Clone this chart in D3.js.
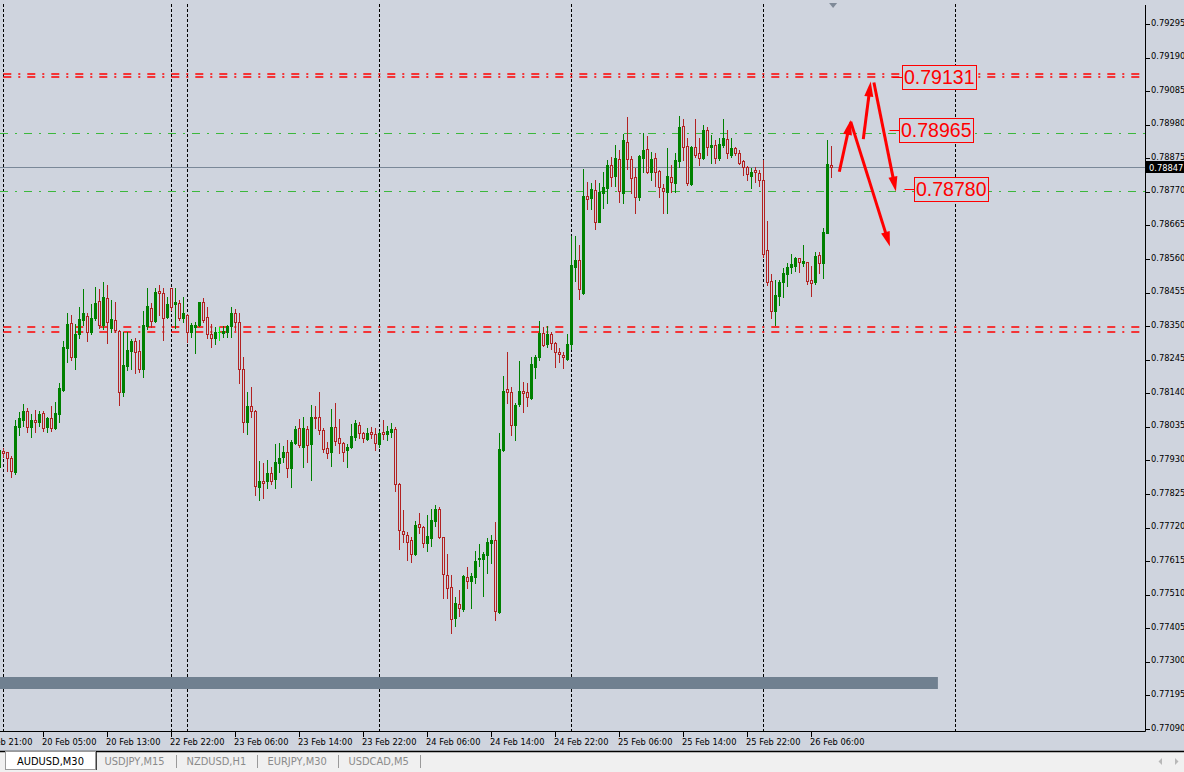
<!DOCTYPE html>
<html><head><meta charset="utf-8">
<script src="https://cdn.jsdelivr.net/npm/d3@7"></script>
<style>html,body{margin:0;padding:0;background:#CFD4DE;overflow:hidden}</style>
</head><body>
<svg id="c" width="1184" height="772"></svg>
<script>
// bar index 0 = 20 Feb 00:00 (M30 bars); first candle is bar -1
const firstBar = -1;
const opens = [0.77911,0.77960,0.77956,0.77939,0.77895,0.78036,0.78057,0.78085,0.78036,0.78057,
0.78051,0.78078,0.78036,0.78062,0.78033,0.78074,0.78151,0.78281,0.78359,0.78255,
0.78325,0.78369,0.78382,0.78331,0.78377,0.78429,0.78354,0.78437,0.78345,0.78369,
0.78335,0.78143,0.78227,0.78272,0.78304,0.78272,0.78216,0.78352,0.78406,0.78367,
0.78460,0.78453,0.78380,0.78469,0.78420,0.78422,0.78375,0.78385,0.78333,0.78348,
0.78354,0.78425,0.78378,0.78325,0.78312,0.78331,0.78330,0.78333,0.78351,0.78390,
0.78364,0.78215,0.78049,0.78101,0.78085,0.77846,0.77867,0.77867,0.77890,0.77871,
0.77923,0.77942,0.77958,0.77906,0.77986,0.78031,0.77973,0.78028,0.77982,0.78067,
0.78065,0.78025,0.77968,0.77958,0.78034,0.77999,0.77986,0.77963,0.77971,0.78004,
0.78041,0.78015,0.77996,0.78018,0.78013,0.77982,0.78018,0.78013,0.78020,0.78029,
0.77856,0.77709,0.77697,0.77681,0.77638,0.77731,0.77721,0.77673,0.77687,0.77742,
0.77778,0.77690,0.77572,0.77533,0.77436,0.77481,0.77466,0.77565,0.77554,0.77567,
0.77621,0.77623,0.77634,0.77673,0.77681,0.77455,0.77963,0.78154,0.78143,0.78041,
0.78107,0.78147,0.78143,0.78125,0.78223,0.78253,0.78330,0.78294,0.78325,0.78298,
0.78270,0.78260,0.78247,0.78294,0.78536,0.78557,0.78455,0.78757,0.78752,0.78776,
0.78677,0.78768,0.78781,0.78854,0.78821,0.78872,0.78768,0.78925,0.78872,0.78816,
0.78755,0.78875,0.78903,0.78831,0.78875,0.78836,0.78781,0.78771,0.78816,0.78799,
0.78868,0.78976,0.78914,0.78795,0.78910,0.78893,0.78875,0.78964,0.78912,0.78917,
0.78875,0.78917,0.78935,0.78886,0.78906,0.78893,0.78867,0.78847,0.78821,0.78839,
0.78828,0.78807,0.78588,0.78492,0.78398,0.78445,0.78489,0.78513,0.78534,0.78538,
0.78562,0.78549,0.78550,0.78494,0.78489,0.78573,0.78549,0.78643,0.78854];
const highs = [0.77972,0.77968,0.77958,0.77944,0.78057,0.78083,0.78106,0.78093,0.78074,0.78088,
0.78085,0.78085,0.78067,0.78100,0.78114,0.78171,0.78304,0.78390,0.78385,0.78356,
0.78411,0.78466,0.78392,0.78418,0.78472,0.78466,0.78487,0.78479,0.78432,0.78427,
0.78338,0.78333,0.78331,0.78310,0.78312,0.78307,0.78398,0.78469,0.78422,0.78470,
0.78479,0.78469,0.78442,0.78470,0.78469,0.78432,0.78442,0.78387,0.78359,0.78362,
0.78427,0.78437,0.78409,0.78356,0.78347,0.78347,0.78351,0.78354,0.78409,0.78403,
0.78392,0.78253,0.78143,0.78159,0.78088,0.77928,0.77921,0.77932,0.77911,0.77982,
0.77984,0.77975,0.77994,0.77994,0.78038,0.78061,0.78067,0.78038,0.78104,0.78100,
0.78143,0.78031,0.77989,0.78092,0.78109,0.78059,0.77989,0.77982,0.78043,0.78057,
0.78051,0.78020,0.78031,0.78034,0.78031,0.78023,0.78057,0.78038,0.78048,0.78036,
0.77859,0.77775,0.77707,0.77692,0.77742,0.77765,0.77725,0.77760,0.77777,0.77791,
0.77785,0.77692,0.77638,0.77572,0.77502,0.77525,0.77572,0.77598,0.77579,0.77647,
0.77669,0.77645,0.77687,0.77697,0.77737,0.78015,0.78194,0.78270,0.78159,0.78111,
0.78242,0.78175,0.78171,0.78255,0.78260,0.78366,0.78347,0.78351,0.78333,0.78302,
0.78281,0.78270,0.78326,0.78632,0.78632,0.78604,0.78842,0.78802,0.78799,0.78807,
0.78797,0.78832,0.78870,0.78880,0.78917,0.78901,0.78951,0.79003,0.78882,0.78844,
0.78886,0.78953,0.78945,0.78896,0.78891,0.78839,0.78795,0.78906,0.78854,0.78891,
0.79008,0.78997,0.78938,0.78914,0.78997,0.78938,0.78979,0.78974,0.78948,0.78932,
0.78938,0.78997,0.78964,0.78938,0.78910,0.78901,0.78870,0.78851,0.78844,0.78849,
0.78839,0.78870,0.78680,0.78513,0.78494,0.78494,0.78531,0.78549,0.78576,0.78567,
0.78563,0.78604,0.78552,0.78538,0.78583,0.78583,0.78656,0.78932,0.78914];
const lows = [0.77900,0.77941,0.77897,0.77879,0.77888,0.78010,0.78039,0.78020,0.78004,0.78020,
0.78039,0.78022,0.78020,0.78022,0.78029,0.78051,0.78147,0.78237,0.78244,0.78215,
0.78314,0.78354,0.78305,0.78326,0.78369,0.78343,0.78341,0.78297,0.78333,0.78331,
0.78104,0.78133,0.78213,0.78216,0.78203,0.78206,0.78192,0.78341,0.78348,0.78364,
0.78385,0.78307,0.78375,0.78401,0.78345,0.78369,0.78364,0.78302,0.78317,0.78265,
0.78351,0.78364,0.78314,0.78286,0.78294,0.78307,0.78317,0.78317,0.78317,0.78338,
0.78173,0.78020,0.78012,0.78067,0.77822,0.77806,0.77812,0.77843,0.77856,0.77843,
0.77895,0.77926,0.77879,0.77846,0.77982,0.77973,0.77911,0.77926,0.77869,0.78031,
0.78013,0.77958,0.77937,0.77914,0.77978,0.77953,0.77929,0.77911,0.77968,0.77994,
0.77999,0.77989,0.77994,0.77999,0.77963,0.77973,0.77996,0.77994,0.78004,0.77836,
0.77652,0.77676,0.77619,0.77613,0.77634,0.77702,0.77660,0.77648,0.77663,0.77725,
0.77687,0.77499,0.77499,0.77391,0.77413,0.77445,0.77460,0.77530,0.77470,0.77546,
0.77600,0.77507,0.77579,0.77610,0.77431,0.77452,0.77960,0.78109,0.78010,0.77994,
0.78100,0.78083,0.78100,0.78122,0.78189,0.78244,0.78288,0.78286,0.78279,0.78223,
0.78239,0.78220,0.78244,0.78278,0.78492,0.78434,0.78451,0.78717,0.78717,0.78654,
0.78676,0.78719,0.78734,0.78789,0.78789,0.78739,0.78736,0.78841,0.78766,0.78703,
0.78745,0.78833,0.78828,0.78807,0.78789,0.78755,0.78705,0.78705,0.78771,0.78771,
0.78849,0.78870,0.78792,0.78792,0.78878,0.78854,0.78872,0.78886,0.78860,0.78861,
0.78870,0.78912,0.78875,0.78880,0.78886,0.78857,0.78823,0.78807,0.78783,0.78802,
0.78789,0.78566,0.78479,0.78375,0.78354,0.78416,0.78440,0.78476,0.78515,0.78524,
0.78521,0.78538,0.78482,0.78444,0.78482,0.78515,0.78502,0.78640,0.78818];
const closes = [0.77963,0.77954,0.77939,0.77897,0.78038,0.78062,0.78085,0.78036,0.78057,0.78051,
0.78074,0.78031,0.78062,0.78033,0.78078,0.78156,0.78286,0.78356,0.78255,0.78325,
0.78373,0.78390,0.78331,0.78375,0.78422,0.78354,0.78440,0.78364,0.78372,0.78338,
0.78143,0.78229,0.78276,0.78304,0.78268,0.78216,0.78354,0.78413,0.78367,0.78456,
0.78453,0.78377,0.78419,0.78411,0.78427,0.78375,0.78390,0.78331,0.78354,0.78354,
0.78425,0.78369,0.78325,0.78312,0.78331,0.78331,0.78336,0.78351,0.78390,0.78364,
0.78215,0.78049,0.78101,0.78085,0.77850,0.77866,0.77861,0.77890,0.77867,0.77924,
0.77937,0.77958,0.77907,0.77987,0.78028,0.77978,0.78031,0.77978,0.78065,0.78062,
0.78025,0.77965,0.77954,0.78034,0.77992,0.77986,0.77958,0.77971,0.78007,0.78046,
0.78015,0.77999,0.78015,0.78012,0.77984,0.78017,0.78012,0.78023,0.78029,0.77856,
0.77713,0.77699,0.77674,0.77638,0.77728,0.77723,0.77673,0.77694,0.77744,0.77778,
0.77690,0.77574,0.77530,0.77433,0.77483,0.77468,0.77569,0.77554,0.77569,0.77616,
0.77625,0.77638,0.77675,0.77681,0.77460,0.77966,0.78147,0.78143,0.78041,0.78104,
0.78147,0.78140,0.78130,0.78232,0.78253,0.78330,0.78291,0.78325,0.78297,0.78270,
0.78262,0.78255,0.78293,0.78541,0.78557,0.78465,0.78757,0.78747,0.78778,0.78675,
0.78769,0.78785,0.78854,0.78818,0.78875,0.78774,0.78932,0.78872,0.78813,0.78755,
0.78882,0.78901,0.78831,0.78872,0.78833,0.78785,0.78774,0.78820,0.78802,0.78870,
0.78974,0.78912,0.78799,0.78912,0.78886,0.78875,0.78964,0.78912,0.78917,0.78875,
0.78920,0.78938,0.78891,0.78906,0.78891,0.78861,0.78849,0.78825,0.78833,0.78833,
0.78807,0.78576,0.78489,0.78398,0.78448,0.78489,0.78515,0.78534,0.78545,0.78562,
0.78552,0.78554,0.78492,0.78486,0.78570,0.78549,0.78644,0.78857,0.78847];

const timeTickLabels = ["19 Feb 21:00","20 Feb 05:00","20 Feb 13:00","22 Feb 22:00","23 Feb 06:00","23 Feb 14:00","23 Feb 22:00","24 Feb 06:00","24 Feb 14:00","24 Feb 22:00","25 Feb 06:00","25 Feb 14:00","25 Feb 22:00","26 Feb 06:00"];
const timeTickBars = [-6,10,26,42,58,74,90,106,122,138,154,170,186,202];
const daySeparatorBars = [0,42,46,94,142,190,238];
const priceTicks = [0.79295,0.79190,0.79085,0.78980,0.78875,0.78770,0.78665,0.78560,0.78455,0.78350,0.78245,0.78140,0.78035,0.77930,0.77825,0.77720,0.77615,0.77510,0.77405,0.77300,0.77195,0.77090];
const bidPrice = 0.78847;
const redLevels = [0.79140,0.79131,0.78347,0.78331];
const greenLevels = [0.78953,0.78773];
const priceLabels = [0.79131,0.78965,0.78780];
const priceLabelBars = [224.7,223.8,227.7];
const arrowFromBar = [208.95,211.8,214.95,217.6];
const arrowFromPrice = [0.78833,0.78990,0.78935,0.79112];
const arrowToBar = [211.8,221.6,216.8,223.1];
const arrowToPrice = [0.78995,0.78599,0.79115,0.78771];
const boxBars = [-3,233.6];
const boxPrices = [0.77253,0.77215];
const tabs = ["AUDUSD,M30","USDJPY,M15","NZDUSD,H1","EURJPY,M30","USDCAD,M5"];

const BG = "#CFD4DE", BULL = "#008000", BEAR = "#B22222", DOJI = "#00FF00";
const PR = 1145, PB = 731;
const svg = d3.select("#c");
const x = d3.scaleLinear().domain([0,238]).range([3.5,955.5]);
const y = d3.scaleLinear().domain([0.77090,0.79295]).range([729.0,24.07]);

svg.append("rect").attr("width",1184).attr("height",772).attr("fill",BG);
svg.append("defs").append("clipPath").attr("id","pc").append("rect")
  .attr("x",0).attr("y",0).attr("width",PR).attr("height",PB);
const plot = svg.append("g").attr("clip-path","url(#pc)");

// day separators
plot.selectAll("line.sep").data(daySeparatorBars).join("line")
  .attr("x1",d=>Math.floor(x(d))+0.5).attr("x2",d=>Math.floor(x(d))+0.5)
  .attr("y1",4).attr("y2",PB).attr("stroke","#000").attr("stroke-dasharray","3,2");

// rectangle object
plot.append("rect").attr("x",x(boxBars[0])).attr("width",x(boxBars[1])-x(boxBars[0]))
  .attr("y",Math.round(y(boxPrices[0]))).attr("height",Math.round(y(boxPrices[1]))-Math.round(y(boxPrices[0])))
  .attr("fill","#708090");

// horizontal levels
plot.selectAll("line.red").data(redLevels).join("line")
  .attr("x1",0).attr("x2",PR).attr("y1",d=>Math.round(y(d))).attr("y2",d=>Math.round(y(d)))
  .attr("stroke","#FF0000").attr("stroke-width",1.6).attr("stroke-dasharray","8,7,2,7").attr("stroke-dashoffset",20.7);
plot.selectAll("line.green").data(greenLevels).join("line")
  .attr("x1",0).attr("x2",PR).attr("y1",d=>Math.round(y(d))+0.5).attr("y2",d=>Math.round(y(d))+0.5)
  .attr("stroke","#3CB83C").attr("stroke-width",1).attr("stroke-dasharray","8,7,2,7");
plot.append("line").attr("x1",0).attr("x2",PR)
  .attr("y1",Math.round(y(bidPrice))+0.5).attr("y2",Math.round(y(bidPrice))+0.5)
  .attr("stroke","#7A8898").attr("stroke-width",1);

// candles
const bars = opens.map((o,i)=>({bar:firstBar+i,o,h:highs[i],l:lows[i],c:closes[i]}));
const col = d=> d.o===d.c ? DOJI : (d.c>d.o ? BULL : BEAR);
const cg = plot.append("g");
cg.selectAll("rect.w").data(bars).join("rect")
  .attr("x",d=>Math.floor(x(d.bar))).attr("width",1)
  .attr("y",d=>Math.round(y(d.h))).attr("height",d=>Math.round(y(d.l))-Math.round(y(d.h))+1)
  .attr("fill",col);
const topY = d=>Math.round(y(Math.max(d.o,d.c))), botY = d=>Math.round(y(Math.min(d.o,d.c)));
cg.selectAll("rect.bull").data(bars.filter(d=>d.c>=d.o)).join("rect")
  .attr("x",d=>Math.floor(x(d.bar))-1).attr("width",3)
  .attr("y",topY).attr("height",d=>Math.max(1,botY(d)-topY(d)+1)).attr("fill",col);
cg.selectAll("rect.bear").data(bars.filter(d=>d.c<d.o)).join("rect")
  .attr("x",d=>Math.floor(x(d.bar))-0.5).attr("width",2)
  .attr("y",d=>topY(d)+0.5).attr("height",d=>Math.max(0,botY(d)-topY(d)))
  .attr("fill",BG).attr("stroke",BEAR).attr("stroke-width",1);

// arrows
const arrows = arrowFromBar.map((b,i)=>({x1:x(b),y1:y(arrowFromPrice[i]),x2:x(arrowToBar[i]),y2:y(arrowToPrice[i])}));
arrows.forEach(a=>{
  const dx=a.x2-a.x1, dy=a.y2-a.y1, L=Math.hypot(dx,dy), ux=dx/L, uy=dy/L;
  const hl=15, hw=4.5;
  const bx=a.x2-ux*hl, by=a.y2-uy*hl;
  plot.append("line").attr("x1",a.x1).attr("y1",a.y1).attr("x2",bx+ux*2).attr("y2",by+uy*2)
    .attr("stroke","#FF0000").attr("stroke-width",3);
  plot.append("path").attr("d",`M${a.x2},${a.y2}L${bx-uy*hw},${by+ux*hw}L${bx+uy*hw},${by-ux*hw}Z`)
    .attr("fill","#FF0000");
});

// price labels (filled box hides lines beneath)
priceLabels.forEach((v,i)=>{
  const bx=Math.round(x(priceLabelBars[i]))+0.5, cy=y(v);
  plot.append("line").attr("x1",bx-10).attr("x2",bx).attr("y1",Math.round(cy)+0.5).attr("y2",Math.round(cy)+0.5)
    .attr("stroke","#FF0000").attr("stroke-width",1);
  const box = plot.append("rect").attr("x",bx).attr("y",Math.round(cy-12)+0.5).attr("height",24)
    .attr("fill",BG).attr("stroke","#FF0000").attr("stroke-width",1);
  const t=plot.append("text").attr("x",bx+1.5).attr("y",cy+7.2)
    .attr("font-family","Liberation Sans, Arial, sans-serif").attr("font-size",19.5)
    .attr("fill","#FF0000").text(v.toFixed(5));
  box.attr("width",Math.round(t.node().getComputedTextLength()+3));
});

// chart shift marker
const mx = x(207.4);
svg.append("path").attr("d",`M${mx-4},3L${mx+4},3L${mx},8Z`).attr("fill","#7F8A98");

// borders
svg.append("line").attr("x1",PR+0.5).attr("x2",PR+0.5).attr("y1",5).attr("y2",PB+0.5).attr("stroke","#000");
svg.append("line").attr("x1",0).attr("x2",PR+0.5).attr("y1",PB+0.5).attr("y2",PB+0.5).attr("stroke","#000");

// price axis
const font = "DejaVu Sans, Verdana, sans-serif";
const pa = svg.append("g");
pa.selectAll("line").data(priceTicks).join("line")
  .attr("x1",PR+1).attr("x2",PR+5).attr("y1",d=>Math.round(y(d))+0.5).attr("y2",d=>Math.round(y(d))+0.5).attr("stroke","#000");
pa.selectAll("text").data(priceTicks).join("text")
  .attr("x",1151).attr("y",d=>y(d)+1.5).attr("font-family",font).attr("font-size",8.3).attr("fill","#000")
  .text(d=>d.toFixed(5));
// bid label
const by0 = Math.round(y(bidPrice));
svg.append("rect").attr("x",PR+1).attr("y",by0-6).attr("width",1184-PR-1).attr("height",12).attr("fill","#000");
svg.append("text").attr("x",1149).attr("y",by0+4).attr("font-family",font).attr("font-size",8.3).attr("fill","#fff").text(bidPrice.toFixed(5));

// time axis
const ta = svg.append("g");
ta.selectAll("line").data(timeTickBars).join("line")
  .attr("x1",d=>Math.floor(x(d))+0.5).attr("x2",d=>Math.floor(x(d))+0.5).attr("y1",PB).attr("y2",PB+6).attr("stroke","#000");
ta.selectAll("text").data(timeTickLabels).join("text")
  .attr("x",(d,i)=>Math.floor(x(timeTickBars[i]))-1).attr("y",744.5).attr("font-family",font).attr("font-size",8.3).attr("fill","#000")
  .text(d=>d);

// tab bar
svg.append("rect").attr("x",0).attr("y",752).attr("width",1184).attr("height",20).attr("fill","#F0F0F0");
svg.append("line").attr("x1",0).attr("x2",1184).attr("y1",751.5).attr("y2",751.5).attr("stroke","#000").attr("stroke-width",1.5);
svg.append("rect").attr("x",5.5).attr("y",751.5).attr("width",90).attr("height",18)
  .attr("fill","#fff").attr("stroke","#9A9A9A");
svg.append("line").attr("x1",96.5).attr("x2",96.5).attr("y1",752).attr("y2",770).attr("stroke","#404040");
let tx = 17;
tabs.forEach((name,i)=>{
  const t = svg.append("text").attr("x",tx).attr("y",764.5).attr("font-family",font).attr("font-size",9.9)
    .attr("fill", i===0 ? "#000" : "#8A8A8A").text(name);
  const w = t.node().getComputedTextLength();
  if(i===0){
    tx = 104.6;
  } else {
    const sx = Math.round(tx + w + 11) + 0.5;
    svg.append("line").attr("x1",sx).attr("x2",sx).attr("y1",755).attr("y2",768).attr("stroke","#9A9A9A");
    tx = sx + 10;
  }
});
// scroll arrows
svg.append("path").attr("d","M1162,758L1162,765L1158.5,761.5Z").attr("fill","#B8B8B8");
svg.append("path").attr("d","M1175,758L1175,765L1178.5,761.5Z").attr("fill","#B8B8B8");
</script>
</body></html>
